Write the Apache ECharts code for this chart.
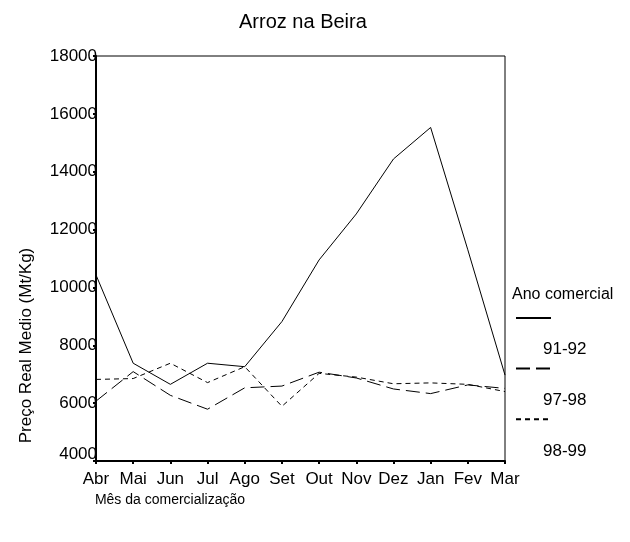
<!DOCTYPE html>
<html><head><meta charset="utf-8">
<script src="https://cdn.jsdelivr.net/npm/echarts@6/dist/echarts.min.js"></script>
<style>html,body{margin:0;padding:0;background:#fff}#c{width:630px;height:542px}</style>
</head><body><div id="c"></div>
<script>
const months = ['Abr','Mai','Jun','Jul','Ago','Set','Out','Nov','Dez','Jan','Fev','Mar'];
const seriesNames = ['91-92','97-98','98-99'];
const v9192 = [10430, 7380, 6650, 7380, 7260, 8820, 10950, 12540, 14440, 15530, 11300, 6970];
const v9798 = [6070, 7090, 6270, 5790, 6530, 6590, 7070, 6870, 6490, 6330, 6630, 6510];
const v9899 = [6820, 6850, 7380, 6710, 7260, 5890, 7030, 6900, 6670, 6700, 6650, 6400];
const yTicks = [4000, 6000, 8000, 10000, 12000, 14000, 16000, 18000];

const FONT = '"Liberation Sans", Arial, sans-serif';
const chart = echarts.init(document.getElementById('c'), null, {renderer: 'canvas'});
chart.setOption({
  animation: false,
  backgroundColor: '#fff',
  textStyle: {fontFamily: FONT, color: '#000'},
  title: [
    {text: 'Arroz na Beira', left: 239, top: 12, padding: 0,
     textStyle: {fontSize: 20, fontWeight: 'normal', color: '#000', fontFamily: FONT}},
    {text: 'Ano comercial', left: 512, top: 287, padding: 0,
     textStyle: {fontSize: 16, fontWeight: 'normal', color: '#000', fontFamily: FONT}}
  ],
  legend: [
    {data: seriesNames, orient: 'vertical', left: 515, top: 311, padding: 0,
     itemWidth: 35, itemHeight: 14, itemGap: 38, formatter: () => '', selectedMode: false,
     itemStyle: {opacity: 0}},
    {data: seriesNames, orient: 'vertical', left: 537, top: 341, padding: 0,
     itemWidth: 1, itemHeight: 17, itemGap: 34, icon: 'rect', selectedMode: false,
     itemStyle: {opacity: 0}, lineStyle: {opacity: 0},
     textStyle: {fontSize: 17, lineHeight: 17, color: '#000', fontFamily: FONT}}
  ],
  grid: {left: 96, right: 125, top: 56, bottom: 81, show: true, borderColor: '#000', borderWidth: 1},
  xAxis: {
    type: 'category', data: months, boundaryGap: false,
    axisLine: {lineStyle: {color: '#000', width: 2}},
    axisTick: {show: true, length: 3, lineStyle: {color: '#000', width: 2}},
    axisLabel: {color: '#000', fontSize: 17, margin: 10, interval: 0, fontFamily: FONT},
    name: 'Mês da comercialização', nameLocation: 'middle', nameGap: 31,
    nameTextStyle: {fontSize: 14, color: '#000', fontFamily: FONT, padding: [0, 261, 0, 0]}
  },
  yAxis: {
    type: 'value', min: 4000, max: 18000, interval: 2000,
    splitLine: {show: false},
    axisLine: {show: true, lineStyle: {color: '#000', width: 2}},
    axisTick: {show: true, length: 3, lineStyle: {color: '#000', width: 2}},
    axisLabel: {color: '#000', fontSize: 17, margin: -1, fontFamily: FONT,
      formatter: v => v === yTicks[0] ? '{b|' + v + '}' : String(v),
      rich: {b: {fontSize: 17, color: '#000', fontFamily: FONT, padding: [0, 0, 14, 0]}}},
    name: 'Preço Real Medio (Mt/Kg)', nameLocation: 'middle', nameGap: 61,
    nameTextStyle: {fontSize: 17, color: '#000', fontFamily: FONT, padding: [0, 174, 0, 0]}
  },
  series: [
    {name: seriesNames[0], type: 'line', data: v9192, symbol: 'none', silent: true,
     lineStyle: {color: '#000', width: 1, type: 'solid'}, itemStyle: {color: '#000'}},
    {name: seriesNames[1], type: 'line', data: v9798, symbol: 'none', silent: true,
     lineStyle: {color: '#000', width: 1, type: [14, 6]}, itemStyle: {color: '#000'}},
    {name: seriesNames[2], type: 'line', data: v9899, symbol: 'none', silent: true,
     lineStyle: {color: '#000', width: 1, type: [5, 4]}, itemStyle: {color: '#000'}}
  ]
});
</script></body></html>
